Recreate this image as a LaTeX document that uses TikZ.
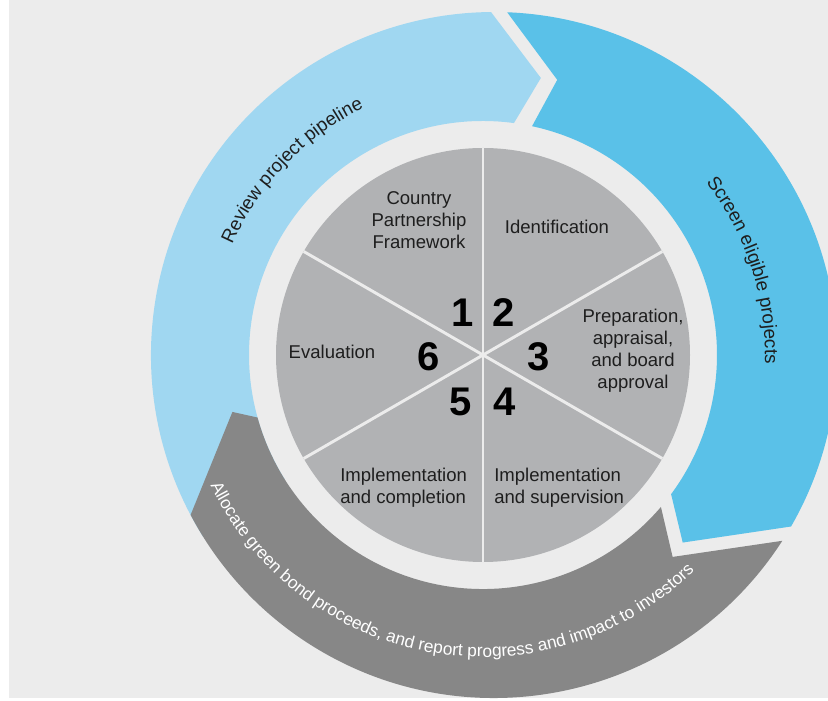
\documentclass[tikz,border=0pt]{standalone}
\usepackage{fontspec}
\setmainfont{Liberation Sans}
\usetikzlibrary{calc,decorations.text}
\definecolor{bgcol}{HTML}{ECECEC}
\definecolor{reviewcol}{HTML}{A0D7F1}
\definecolor{screencol}{HTML}{5AC1E8}
\definecolor{allocol}{HTML}{878787}
\definecolor{piecol}{HTML}{B1B2B4}
\definecolor{inkcol}{HTML}{1E1E1E}
\newcommand{\lblfont}{\fontsize{13.9}{16.5}\selectfont}
\newcommand{\ringfont}{\fontsize{14.1}{16}\selectfont}
\newcommand{\allocfont}{\fontsize{13}{15}\selectfont}
\newcommand{\numfont}{\fontsize{30}{32}\selectfont\bfseries}

\begin{document}
\begin{tikzpicture}[x=0.75pt,y=0.75pt,
  lbl/.style={font=\lblfont,text=inkcol,align=center,inner sep=0pt},
  num/.style={font=\numfont,text=black,inner sep=0pt},
  sep/.style={bgcol,line width=2.2pt}]
\useasboundingbox (0,0) rectangle (828,700);
\clip (0,0) rectangle (828,700);
\fill[bgcol] (9,2) rectangle (828,700);
\coordinate (C) at (483,345);
\coordinate (O) at (494,345);

% outer ring
\fill[reviewcol] ($(O)+(212:343)$) arc[start angle=212,end angle=90.5,radius=343]
  -- ($(C)+(78.2:283)$) -- ($(C)+(82.4:234)$) arc[start angle=82.4,end angle=212,radius=234] -- cycle;
\fill[screencol] ($(O)+(87.8:343)$) arc[start angle=87.8,end angle=-30,radius=343]
  -- ($(C)+(-43.2:274)$) -- ($(C)+(-36.5:234)$) arc[start angle=-36.5,end angle=77.9,radius=234]
  -- ($(C)+(74.9:285)$) -- cycle;
\fill[allocol] ($(O)+(-32.8:343)$) arc[start angle=-32.8,end angle=-152.2,radius=343]
  -- ($(C)+(192.8:257)$) -- ($(C)+(195.5:234)$) arc[start angle=195.5,end angle=319.5,radius=234]
  -- ($(C)+(-46.8:277)$) -- cycle;

\path[decorate,decoration={text along path,text align=center,text color=inkcol,
  text={|\ringfont|Review project pipeline}}] ($(C)+(176:274)$) arc[start angle=176,end angle=96,radius=274];
\path[decorate,decoration={text along path,text align=center,text color=inkcol,
  text={|\ringfont|Screen eligible projects}}] ($(C)+(58:282)$) arc[start angle=58,end angle=-22,radius=282];
\path[decorate,decoration={text along path,text align=center,text color=white,
  text={|\allocfont|Allocate green bond proceeds, and report progress and impact to investors}}]
  ($(C)+(185:302)$) arc[start angle=185,end angle=335,radius=302];

% project cycle
\fill[piecol] (C) circle[radius=207];
\foreach \a in {90,150,210}
  \draw[sep] ($(C)+(\a:207)$) -- ($(C)+(\a+180:207)$);

\node[num] (n1) at (463,387) {1};
\node[num] (n2) at (504,387) {2};
\node[num] (n3) at (539,343) {3};
\node[num] (n4) at (505,298) {4};
\node[num] (n5) at (461,298) {5};
\node[num] (n6) at (429,343) {6};

\node[lbl] (cpf) at (419,480) {Country\\Partnership\\Framework};
\node[lbl] (ident) at (557,473) {Identification};
\node[lbl] (prep) at (633,349) {Preparation,\\appraisal,\\and board\\approval};
\node[lbl] (eval) at (332,348) {Evaluation};
\node[lbl,align=left,anchor=west] (implc) at (340,212.5) {Implementation\\and completion};
\node[lbl,align=left,anchor=west] (impls) at (494,212.5) {Implementation\\and supervision};
\end{tikzpicture}
\end{document}
